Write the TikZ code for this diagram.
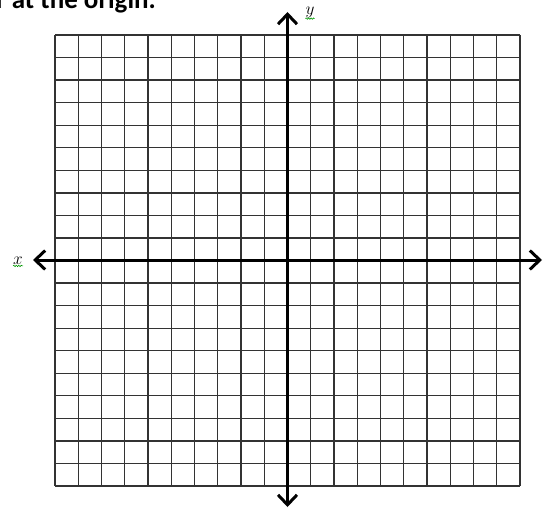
\documentclass[tikz,border=0pt]{standalone}
\usepackage{fontspec}
\newfontfamily\headfont{Carlito}
\usetikzlibrary{arrows.meta,decorations.pathmorphing}

\begin{document}
\begin{tikzpicture}[x=1pt,y=-1pt,
  gridline/.style={draw=black!80,line width=1.3pt},
  axis/.style={line width=3pt,{Straight Barb[length=10pt,width=19pt]}-{Straight Barb[length=10pt,width=19pt]}},
  squiggle/.style={draw=green!60!black,line width=0.6pt,decorate,decoration={snake,amplitude=0.7pt,segment length=2.5pt}}]
\useasboundingbox (0,0) rectangle (546,508);
\clip (0,0) rectangle (546,508);
% \draw[help lines] (0,0) grid (546,508);
\node (title) [anchor=base west,inner sep=0pt,font=\headfont\bfseries\fontsize{27}{30}\selectfont] at (-4,8.5) {r at the origin.};
%
\foreach \i in {0,...,20} {
  \draw[gridline] (55+23.25*\i,35) -- (55+23.25*\i,486);
  \draw[gridline] (55,35+22.55*\i) -- (520,35+22.55*\i);
}
%
\coordinate (xl) at (33,260);
\coordinate (xr) at (542,260);
\coordinate (yt) at (287.5,12);
\coordinate (yb) at (287.5,507);
\path[axis] (xl) edge (xr);
\path[axis] (yb) edge (yt);
%
\node (xlab) [inner sep=0pt,font=\fontsize{17}{17}\selectfont] at (18,261) {$x$};
\node (ylab) [inner sep=0pt,font=\fontsize{17}{17}\selectfont] at (310,12) {$y$};
\draw[squiggle] ([yshift=-1pt]xlab.south west) -- ([yshift=-1pt]xlab.south east);
\draw[squiggle] ([yshift=-1pt]ylab.south west) -- ([yshift=-1pt]ylab.south east);
\end{tikzpicture}
\end{document}
